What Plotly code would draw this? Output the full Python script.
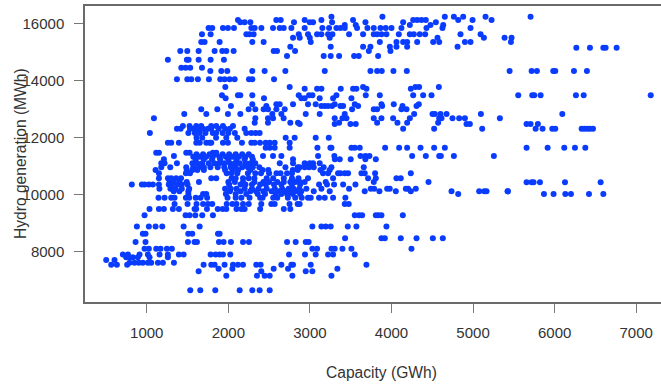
import plotly.graph_objects as go

# Hydro generation levels (MWh) and the capacities (GWh) observed at each level
levels = [16240, 16130, 16050, 15955, 15849, 15627, 15510, 15358, 15194, 15159, 15040, 14866, 14738, 14457, 14340,
          14047, 13780, 13720, 13486, 13380, 13170, 13111, 12994, 12830, 12679, 12520, 12480, 12410, 12316, 12164,
          12000, 11825, 11649, 11474, 11420, 11360, 11330, 11239, 11100, 10960, 10866, 10749, 10574, 10445, 10432, 10360, 10211,
          10117, 10024, 9895, 9673, 9497, 9275, 8880, 8631, 8468, 8340, 8100, 7900, 7800, 7707, 7613, 7543, 7400,
          7309, 7157, 6642]

capacities = [
    [3264, 3889, 4654, 4765, 4879, 5153, 5705],
    [2118, 2588, 2642, 3141, 2936, 3529, 4266, 4315, 4368, 4421, 4818, 4994, 5227],
    [2147, 2200, 2270, 2805, 2998, 3039, 3272, 3681, 4143, 4544],
    [3427, 3562, 4225, 4478, 4634],
    [1758, 1803, 1934, 1995, 2069, 2282, 2323, 2405, 2548, 2630, 2679, 2773, 3235, 3153, 2936, 3325, 3374, 3427, 3578, 3705, 3783, 3865, 3930, 4000, 4122, 4429, 4625, 4969],
    [1677, 1783, 2221, 2261, 2310, 2863, 2977, 3088, 3141, 3223, 3276, 3480, 3652, 3783, 3824, 3877, 3938, 4090, 4225, 4274, 4347, 4413, 4846, 5092],
    [2793, 2998, 3243, 4564, 5133, 5386, 5472, 2875],
    [1668, 1709, 1893, 2294, 2433, 3010, 3857, 4061, 4143, 4192, 4315, 4511, 4585, 4900, 4969, 5464],
    [2760, 3255, 3652, 3742, 3980, 4192, 4061, 4810],
    [6266, 6433, 6597, 6625, 6760],
    [1411, 1497, 1636, 1832, 1926, 1975, 2065, 2556, 2597, 2818, 3987, 3722],
    [2719, 3169, 3255, 3358, 3542, 3599, 3836],
    [1259, 1492, 1513, 1636, 1783, 1946],
    [1423, 1476, 1533, 1677],
    [1779, 1914, 1987, 2294, 2445, 2699, 3182, 3742, 3824, 3881, 4024, 4188, 5448, 5718, 5783, 5983, 6008, 6237, 6396],
    [1370, 1497, 1546, 1627, 1762, 1901, 1954, 2016, 2077, 2253, 2294, 2560],
    [1963, 2752, 3652, 4294, 4339, 4581],
    [2936, 3088, 3141, 3378, 3529, 3570, 3693, 4237],
    [1922, 2118, 2147, 2294, 2863, 3030, 2990, 3325, 3685, 3857, 4266, 4388, 4491, 5554, 5726, 5750, 5828, 6261, 6356, 7178],
    [1967, 2437, 2895, 2936, 3120, 3284, 3509],
    [2294, 2589, 2630, 2793, 2977, 3071, 3304, 3550, 3877, 4028, 4335],
    [2032, 2466, 3141, 3182, 3223, 3272, 3374, 3407, 3591, 3885, 4135, 4307],
    [1668, 1865, 2249, 2331, 2433, 2486, 2589, 2691, 3517, 4122, 4184, 3783, 3824],
    [1460, 1730, 1995, 2147, 2539, 2650, 2949, 3120, 3427, 4278, 4503, 4532, 4601, 4675, 5096, 6094],
    [1088, 2331, 2486, 2548, 2678, 3304, 3448, 3399, 3783, 3877, 4020, 4225, 4585, 4613, 4748, 4830, 4900, 5329],
    [2486, 2760, 2323, 2854, 3358, 3824, 4073, 4192, 4572],
    [3304, 3497, 3562, 2875, 4920, 4961, 5656, 5705, 5795],
    [1443, 1525, 1607, 1668, 1790, 1852, 1934, 2057],
    [1370, 1415, 2200, 4143, 4523, 5112, 5767, 5852, 5971, 6008, 6331, 6364, 6401, 6433, 6470, 1530, 1570, 1630, 1690, 1750, 1790, 1880, 1960, 2020],
    [1038, 2220, 2282, 2335, 2384, 1510, 1590, 1650, 1720, 1810, 1850, 1930, 2000, 2080],
    [1610, 1680, 1850, 1975, 2110, 3071, 3231, 2703, 2813],
    [1259, 1300, 1394, 1607, 1650, 1730, 1770, 1791, 1934, 1995, 2167, 2282, 2323, 2388, 2458, 2507, 2568, 2752],
    [3092, 3251, 3264, 3509, 3550, 3611, 3922, 4094, 4192, 4356, 4523, 4654, 5656, 5914, 6118, 6249, 6376, 2458, 2507, 2568, 2752],
    [1116, 1149, 1484, 1525, 1811, 1852],
    [1610, 1690, 1770, 1850, 1930, 2010, 2090, 2170, 2250],
    [1333, 2425, 2548, 2650, 3100, 3300, 3620, 3680, 3730, 4253, 4421, 4585, 4605, 4765, 5255],
    [1570, 1650, 1730, 1810, 1890, 1970, 2050, 2130, 2210, 2290],
    [3306, 3366, 3500, 3680, 3808, 1210, 1600, 1700, 1800, 1900, 2000, 2100, 2200, 2300, 2793],
    [1178, 1218, 1370, 1560, 1620, 1680, 1760, 1830, 1890, 1950, 2020, 2080, 2140, 2210, 2270, 2330, 2630, 2793, 2936, 2998, 3039, 3120],
    [1178, 1288, 1484, 1570, 1640, 1700, 1780, 1870, 1950, 2030, 2090, 2170, 2240, 2300, 2380, 2700, 2850, 2875, 2936, 2990, 3047, 3169, 3264, 3660],
    [3129, 3243, 1108, 1490, 1560, 1620, 1700, 1960, 2050, 2120, 2270, 2420, 2490, 2790, 2850],
    [3632, 3672, 3799, 3161, 3223, 3345, 3374, 3427, 3468, 4237, 1149, 1480, 1530, 1980, 2040, 2110, 2240, 2330, 2400, 2500, 2590, 2640, 2720, 2780],
    [1149, 1791, 1852, 1260, 1300, 1360, 1420, 3284, 3713, 3808, 4061, 4114, 2040, 2090, 2180, 2250, 2320, 2470, 2550, 2680, 2780, 2860, 2977],
    [1280, 1330, 1400, 1490, 1640, 2875, 2936, 3194, 3783, 4454, 2000, 2080, 2180, 2320, 2430, 2500, 2600, 2680, 2760, 2820],
    [5656, 5718, 5742, 5820, 6127, 6564],
    [817, 940, 973, 1026, 1075, 1149, 1270, 1310, 1380, 1430, 1500, 3112, 3210, 3296, 3407, 3558, 2010, 2150, 2210, 2290, 2390, 2460, 2560, 2650, 2780, 2880],
    [1155, 1290, 1350, 1430, 1520, 2957, 3480, 3746, 3787, 3947, 3979, 4176, 4204, 4298, 3141, 1960, 2030, 2100, 2200, 2290, 2370, 2470, 2570, 2660, 2740, 2800, 2870],
    [1330, 1400, 1510, 2895, 3047, 3243, 3672, 3852, 4053, 4237, 4736, 5075, 5137, 5165, 5423, 5427, 2020, 2150, 2270, 2340, 2430, 2530, 2620, 2700, 2770, 2830],
    [4818, 1510, 1690, 1730, 1970, 2090, 2220, 2360, 2450, 2580, 2650, 2720, 2790, 2880, 5869, 5987, 6131, 6200, 6421, 6597],
    [1144, 1218, 1300, 1341, 1480, 1520, 1600, 1660, 1740, 1990, 2090, 2160, 2260, 2420, 2550, 2600, 2730, 2820, 2900, 2977, 3010, 3112, 3182, 3284, 3435, 2390],
    [1341, 1500, 1610, 1690, 1750, 1803, 1980, 2050, 2100, 2180, 2250, 2404, 2527, 2568, 2750, 2850, 2875, 3427, 3476],
    [1034, 1149, 1210, 1320, 1394, 1586, 1606, 1738, 1870, 1930, 1975, 2100, 2160, 2200, 2390, 2680, 2760],
    [973, 1476, 1525, 1595, 1680, 1811, 3550, 3603, 3640, 3808, 3840, 3877, 4139],
    [879, 1026, 1108, 1190, 1452, 1648, 3030, 3141, 3194, 3255, 3464, 3570, 3938],
    [952, 985, 1509, 1558, 1873, 1893],
    [3431, 3877, 3918, 4114, 4307, 4507, 4629],
    [863, 985, 1505, 1586, 1615, 1885, 1942, 2032, 2180, 2253, 2720, 2826, 2949, 2985],
    [973, 1026, 1116, 1169, 1247, 1308, 3030, 3088, 3264, 3304, 3399, 3509, 4245],
    [707, 769, 912, 1014, 1157, 1259, 1394, 1452, 1783, 1844, 1893, 1934, 2024, 2744, 2940, 3071, 3223, 3284, 3550],
    [748, 789, 830, 891, 1034, 1259],
    [503, 605],
    [789, 850, 903, 952, 1014, 1055, 1137, 1198, 1333],
    [564, 634, 760, 1697, 1791, 1832, 1954, 2057, 2118, 2180, 2343, 2396, 2650, 2773, 2793, 3010, 3693],
    [1880, 2050, 2556, 2732, 3337],
    [1636, 2404, 2949, 3030],
    [1975, 2351, 2445, 2507, 2785, 3264],
    [1533, 1656, 1840, 2139, 2294, 2384, 2507],
]

x_ticks = [1000, 2000, 3000, 4000, 5000, 6000, 7000]
y_ticks = [8000, 10000, 12000, 14000, 16000]

x = [c for row in capacities for c in row]
y = [lv for lv, row in zip(levels, capacities) for _ in row]

fig = go.Figure(go.Scatter(x=x, y=y, mode="markers", marker=dict(color="#0a3cff", size=6, line=dict(width=0))))

axis_common = dict(showgrid=False, zeroline=False, showline=True, linecolor="#6a6a6a", linewidth=1.5,
                   ticks="outside", ticklen=9, tickwidth=1, tickcolor="#777777",
                   tickfont=dict(family="Liberation Sans", size=15, color="#333333"))

title_font = dict(family="Liberation Sans", size=15.6, color="#333333")
fig.update_xaxes(range=[243, 7304], tickvals=x_ticks, mirror=True, ticklabelstandoff=7, **axis_common)
fig.update_yaxes(range=[6234, 16621], tickvals=y_ticks, tickformat="d", ticklabelstandoff=7, **axis_common)
fig.add_annotation(text="Hydro generation (MWh)", textangle=-90, xref="paper", yref="paper",
                   x=-0.1128, y=0.5, xanchor="center", yanchor="middle", showarrow=False, font=title_font)
fig.add_annotation(text="Capacity (GWh)", xref="paper", yref="paper",
                   x=0.5148, y=-0.2365, xanchor="center", yanchor="middle", showarrow=False, font=title_font)
fig.update_layout(width=661, height=385, margin=dict(l=85, r=0, t=6, b=83, autoexpand=False),
                  paper_bgcolor="white", plot_bgcolor="white", showlegend=False)
fig.write_html("out.html", post_script="document.body.style.margin='0';", config=dict(displayModeBar=False))
